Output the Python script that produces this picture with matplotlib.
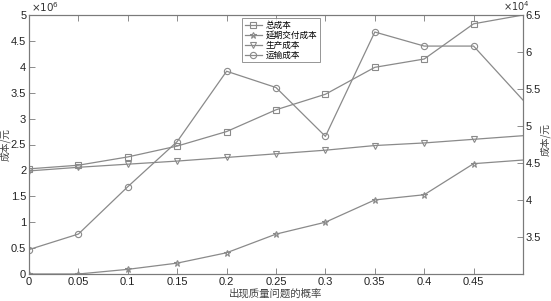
import matplotlib
matplotlib.use("Agg")
import matplotlib.pyplot as plt
import numpy as np

plt.rcParams['font.family'] = ['Liberation Sans', 'Noto Sans CJK SC', 'DejaVu Sans']

prob = [0, 0.05, 0.1, 0.15, 0.2, 0.25, 0.3, 0.35, 0.4, 0.45, 0.5]
total_cost = [2.03, 2.10, 2.26, 2.47, 2.75, 3.17, 3.47, 3.99, 4.15, 4.83, 5.00]  # x1e6
delay_cost = [0.0, 0.0, 0.09, 0.21, 0.41, 0.77, 1.00, 1.43, 1.53, 2.13, 2.20]   # x1e6
prod_cost = [1.99, 2.06, 2.12, 2.18, 2.25, 2.32, 2.39, 2.48, 2.53, 2.60, 2.67]  # x1e6
trans_cost = [3.33, 3.54, 4.18, 4.79, 5.74, 5.52, 4.86, 6.27, 6.08, 6.08, 5.35] # x1e4

labels = ['总成本', '延期交付成本', '生产成本', '运输成本']
xticks = [0, 0.05, 0.1, 0.15, 0.2, 0.25, 0.3, 0.35, 0.4, 0.45]
lticks = [0, 0.5, 1, 1.5, 2, 2.5, 3, 3.5, 4, 4.5, 5]
rticks = [3.5, 4, 4.5, 5, 5.5, 6, 6.5]

lc = '#8a8a8a'
ac = '#7a7a7a'
cjk = ['Noto Sans CJK SC', 'DejaVu Sans']

fig = plt.figure(figsize=(5.51, 3.01), dpi=100)
ax = fig.add_axes([29/551, 1-274/301, (523-29)/551, (274-15)/301])
ax2 = ax.twinx()

mk = dict(color=lc, lw=0.9, ms=4.5, mfc='none', mew=0.8, markevery=list(range(10)))
x = np.array(prob)
h1, = ax.plot(x, np.array(total_cost), marker='s', label=labels[0], **mk)
h2, = ax.plot(x, np.array(delay_cost), marker='*', label=labels[1], **mk)
h3, = ax.plot(x, np.array(prod_cost), marker='v', label=labels[2], **mk)
h4, = ax2.plot(x, np.array(trans_cost), marker='o', label=labels[3], **mk)

ax.set_xlim(0, 0.5)
ax.set_ylim(0, 5)
ax2.set_ylim(3.0, 6.5)
ax.set_xticks(xticks)
ax.set_xticklabels([('%g' % t) for t in xticks])
ax.set_yticks(lticks)
ax.set_yticklabels([('%g' % t) for t in lticks])
ax2.set_yticks(rticks)
ax2.set_yticklabels([('%g' % t) for t in rticks])

for a in (ax, ax2):
    for s in a.spines.values():
        s.set_color(ac)
        s.set_linewidth(0.8)
    a.tick_params(direction='in', length=4, width=0.6, colors=ac, labelcolor='#222222', labelsize=8, pad=2)
ax.tick_params(top=True, axis='x')
ax.tick_params(axis='y', which='both', right=False)

ax.set_xlabel('出现质量问题的概率', family=cjk, fontsize=7.5, color='#444444', labelpad=1)
ax.set_ylabel('成本/元', family=cjk, fontsize=7, color='#444444', va='center')
ax.yaxis.set_label_coords(5/551, 1-145/301, transform=fig.transFigure)
ax2.set_ylabel('成本/元', family=cjk, fontsize=7, color='#444444', va='center', rotation=90)
ax2.yaxis.set_label_coords(545/551, 1-140/301, transform=fig.transFigure)

fig.text(31/551, 1-7/301, r'$\times10^{6}$', fontsize=7.5, color='#333333', va='center', ha='left')
fig.text(503/551, 1-6/301, r'$\times10^{4}$', fontsize=7, color='#333333', va='center', ha='left')

leg = ax.legend(handles=[h1, h2, h3, h4], loc='upper left', bbox_to_anchor=(242/551, 1-18/301),
                bbox_transform=fig.transFigure, prop={'family': cjk, 'size': 6.2},
                frameon=True, fancybox=False, borderpad=0.3, labelspacing=0.12,
                handlelength=2.0, handletextpad=0.4, borderaxespad=0)
leg.get_frame().set_edgecolor(ac)
leg.get_frame().set_linewidth(0.7)

fig.savefig('out.png', dpi=100)
